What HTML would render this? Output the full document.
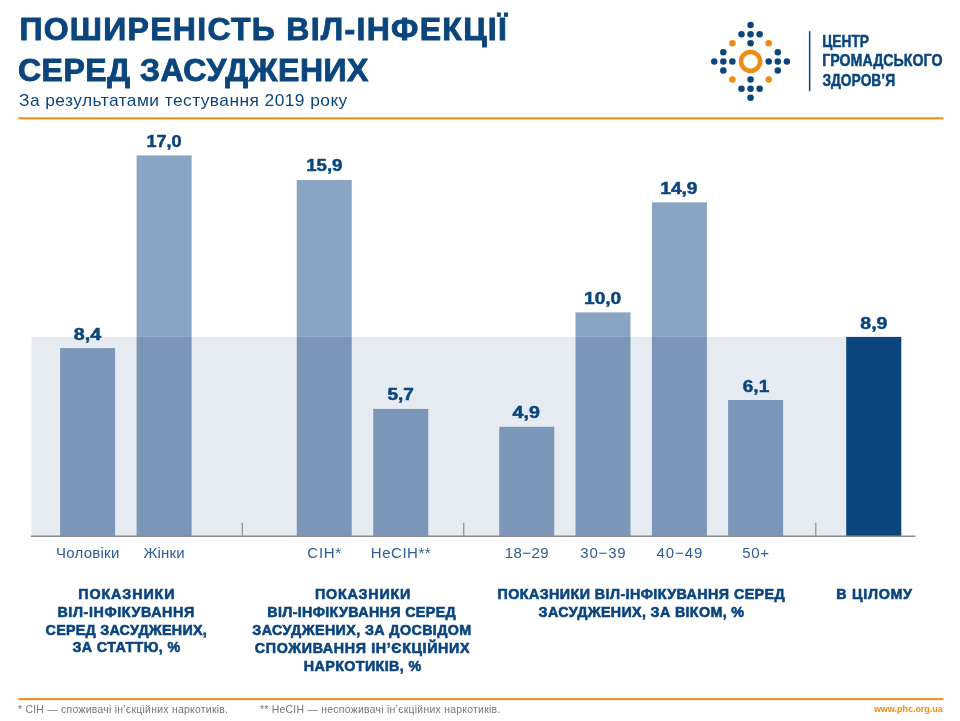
<!DOCTYPE html>
<html lang="uk"><head><meta charset="utf-8"><title>Поширеність ВІЛ-інфекції серед засуджених</title>
<style>html,body{margin:0;padding:0;background:#fff}body{width:960px;height:721px;overflow:hidden}svg{display:block}text{font-family:'Liberation Sans', Arial, sans-serif}.t{font-weight:bold;fill:#0a457d;stroke:#0a457d;stroke-width:.9px;font-size:32px}.s{fill:#0a457d;font-size:16.4px}.l{font-weight:bold;fill:#0a457d;stroke:#0a457d;stroke-width:.5px;font-size:17px}.v{font-weight:bold;fill:#0a457d;stroke:#0a457d;stroke-width:.5px;font-size:17px}.x{fill:#2c5c97;font-size:15px}.c{font-weight:bold;fill:#0a457d;stroke:#0a457d;stroke-width:.6px;font-size:14.3px}.f{fill:#747474;font-size:10.4px}.w{font-weight:bold;fill:#ee8c14;font-size:9.8px}</style></head><body>
<svg width="960" height="721" viewBox="0 0 960 721">
<text class="t" x="19.40" y="40.40" textLength="487.40" lengthAdjust="spacing">ПОШИРЕНІСТЬ ВІЛ-ІНФЕКЦІЇ</text>
<text class="t" x="18.00" y="80.70" textLength="350.40" lengthAdjust="spacing">СЕРЕД ЗАСУДЖЕНИХ</text>
<text class="s" transform="translate(19.00 105.50) scale(1.06 1)" textLength="309.72" lengthAdjust="spacing">За результатами тестування 2019 року</text>
<rect x="18.4" y="117.3" width="925" height="2" fill="#ee8c14"/>
<g fill="#0a457d"><circle cx="750.55" cy="25.08" r="3.25"/><circle cx="741.47" cy="34.16" r="3.25"/><circle cx="750.55" cy="34.16" r="3.25"/><circle cx="759.63" cy="34.16" r="3.25"/><circle cx="750.55" cy="43.24" r="3.25"/><circle cx="750.55" cy="79.56" r="3.25"/><circle cx="741.47" cy="88.64" r="3.25"/><circle cx="750.55" cy="88.64" r="3.25"/><circle cx="759.63" cy="88.64" r="3.25"/><circle cx="750.55" cy="97.72" r="3.25"/><circle cx="714.23" cy="61.40" r="3.25"/><circle cx="723.31" cy="61.40" r="3.25"/><circle cx="732.39" cy="61.40" r="3.25"/><circle cx="723.31" cy="52.32" r="3.25"/><circle cx="723.31" cy="70.48" r="3.25"/><circle cx="786.87" cy="61.40" r="3.25"/><circle cx="777.79" cy="61.40" r="3.25"/><circle cx="768.71" cy="61.40" r="3.25"/><circle cx="777.79" cy="52.32" r="3.25"/><circle cx="777.79" cy="70.48" r="3.25"/></g>
<g fill="#ee8c14"><circle cx="732.39" cy="43.24" r="3.25"/><circle cx="768.71" cy="43.24" r="3.25"/><circle cx="732.39" cy="79.56" r="3.25"/><circle cx="768.71" cy="79.56" r="3.25"/></g>
<circle cx="750.55" cy="61.4" r="9.5" fill="none" stroke="#ee8c14" stroke-width="4.5"/>
<rect x="808.9" y="31.2" width="1.5" height="60" fill="#0a457d"/>
<text class="l" x="822.20" y="46.80" textLength="46.80" lengthAdjust="spacingAndGlyphs">ЦЕНТР</text>
<text class="l" x="822.20" y="66.30" textLength="120.30" lengthAdjust="spacingAndGlyphs">ГРОМАДСЬКОГО</text>
<text class="l" x="822.40" y="85.50" textLength="72.70" lengthAdjust="spacingAndGlyphs">ЗДОРОВ’Я</text>
<rect x="31.5" y="336.9" width="814.7" height="199.3" fill="#e6ebf2"/>
<rect x="60.1" y="348.1" width="55.0" height="188.1" fill="#7b96b8"/>
<text class="v" x="73.75" y="340.10" textLength="27.35" lengthAdjust="spacingAndGlyphs">8,4</text>
<text class="x" x="55.90" y="558.30" textLength="63.40" lengthAdjust="spacing">Чоловіки</text>
<rect x="136.6" y="155.4" width="55.0" height="181.5" fill="#8aa4c3"/>
<rect x="136.6" y="336.9" width="55.0" height="199.3" fill="#7b96b8"/>
<text class="v" x="146.40" y="146.95" textLength="35.10" lengthAdjust="spacingAndGlyphs">17,0</text>
<text class="x" x="143.55" y="558.30" textLength="41.10" lengthAdjust="spacing">Жінки</text>
<rect x="296.75" y="180.0" width="55.0" height="156.9" fill="#8aa4c3"/>
<rect x="296.75" y="336.9" width="55.0" height="199.3" fill="#7b96b8"/>
<text class="v" x="306.20" y="171.40" textLength="36.30" lengthAdjust="spacingAndGlyphs">15,9</text>
<text class="x" x="307.30" y="558.30" textLength="33.90" lengthAdjust="spacing">СІН*</text>
<rect x="373.25" y="408.9" width="55.0" height="127.3" fill="#7b96b8"/>
<text class="v" x="387.50" y="400.20" textLength="26.40" lengthAdjust="spacingAndGlyphs">5,7</text>
<text class="x" x="370.80" y="558.30" textLength="59.90" lengthAdjust="spacing">НеСІН**</text>
<rect x="499.25" y="426.8" width="55.0" height="109.4" fill="#7b96b8"/>
<text class="v" x="512.60" y="418.30" textLength="27.30" lengthAdjust="spacingAndGlyphs">4,9</text>
<text class="x" x="504.85" y="558.30" textLength="43.80" lengthAdjust="spacing">18−29</text>
<rect x="575.5" y="312.4" width="55.0" height="24.5" fill="#8aa4c3"/>
<rect x="575.5" y="336.9" width="55.0" height="199.3" fill="#7b96b8"/>
<text class="v" x="584.00" y="303.95" textLength="37.25" lengthAdjust="spacingAndGlyphs">10,0</text>
<text class="x" x="580.33" y="558.30" textLength="45.35" lengthAdjust="spacing">30−39</text>
<rect x="651.9" y="202.3" width="55.0" height="134.6" fill="#8aa4c3"/>
<rect x="651.9" y="336.9" width="55.0" height="199.3" fill="#7b96b8"/>
<text class="v" x="660.25" y="193.95" textLength="37.25" lengthAdjust="spacingAndGlyphs">14,9</text>
<text class="x" x="656.40" y="558.30" textLength="46.00" lengthAdjust="spacing">40−49</text>
<rect x="728.1" y="400.0" width="55.0" height="136.2" fill="#7b96b8"/>
<text class="v" x="742.80" y="391.70" textLength="26.40" lengthAdjust="spacingAndGlyphs">6,1</text>
<text class="x" x="742.30" y="558.30" textLength="26.60" lengthAdjust="spacing">50+</text>
<rect x="846.2" y="336.9" width="55.1" height="199.3" fill="#0a457d"/>
<text class="v" x="860.30" y="329.40" textLength="27.20" lengthAdjust="spacingAndGlyphs">8,9</text>
<rect x="31" y="535.5" width="884.5" height="1.5" fill="#8c8c8c"/>
<rect x="241.70000000000002" y="522.8" width="1.2" height="13" fill="#8c8c8c"/>
<rect x="463.15" y="522.8" width="1.2" height="13" fill="#8c8c8c"/>
<rect x="815.1999999999999" y="522.8" width="1.2" height="13" fill="#8c8c8c"/>
<text class="c" x="78.30" y="598.70" textLength="96.15" lengthAdjust="spacing">ПОКАЗНИКИ</text>
<text class="c" x="57.40" y="616.70" textLength="136.80" lengthAdjust="spacing">ВІЛ-ІНФІКУВАННЯ</text>
<text class="c" x="45.55" y="634.60" textLength="161.15" lengthAdjust="spacing">СЕРЕД ЗАСУДЖЕНИХ,</text>
<text class="c" x="72.40" y="652.40" textLength="107.90" lengthAdjust="spacing">ЗА СТАТТЮ, %</text>
<text class="c" x="315.05" y="598.90" textLength="95.15" lengthAdjust="spacing">ПОКАЗНИКИ</text>
<text class="c" x="267.30" y="616.90" textLength="188.40" lengthAdjust="spacing">ВІЛ-ІНФІКУВАННЯ СЕРЕД</text>
<text class="c" x="252.30" y="634.80" textLength="218.90" lengthAdjust="spacing">ЗАСУДЖЕНИХ, ЗА ДОСВІДОМ</text>
<text class="c" x="254.80" y="652.60" textLength="214.65" lengthAdjust="spacing">СПОЖИВАННЯ ІН’ЄКЦІЙНИХ</text>
<text class="c" x="303.80" y="670.60" textLength="117.40" lengthAdjust="spacing">НАРКОТИКІВ, %</text>
<text class="c" x="497.60" y="599.00" textLength="287.10" lengthAdjust="spacing">ПОКАЗНИКИ ВІЛ-ІНФІКУВАННЯ СЕРЕД</text>
<text class="c" x="538.60" y="616.80" textLength="205.40" lengthAdjust="spacing">ЗАСУДЖЕНИХ, ЗА ВІКОМ, %</text>
<text class="c" x="836.30" y="599.10" textLength="75.70" lengthAdjust="spacing">В ЦІЛОМУ</text>
<rect x="18.4" y="698.1" width="925" height="2" fill="#ee8c14"/>
<text class="f" x="17.90" y="712.70" textLength="210.10" lengthAdjust="spacing">* СІН — споживачі ін’єкційних наркотиків.</text>
<text class="f" x="259.90" y="712.70" textLength="240.40" lengthAdjust="spacing">** НеСІН — неспоживачі ін’єкційних наркотиків.</text>
<text class="w" x="873.90" y="711.80" textLength="68.90" lengthAdjust="spacingAndGlyphs">www.phc.org.ua</text>
</svg></body></html>
